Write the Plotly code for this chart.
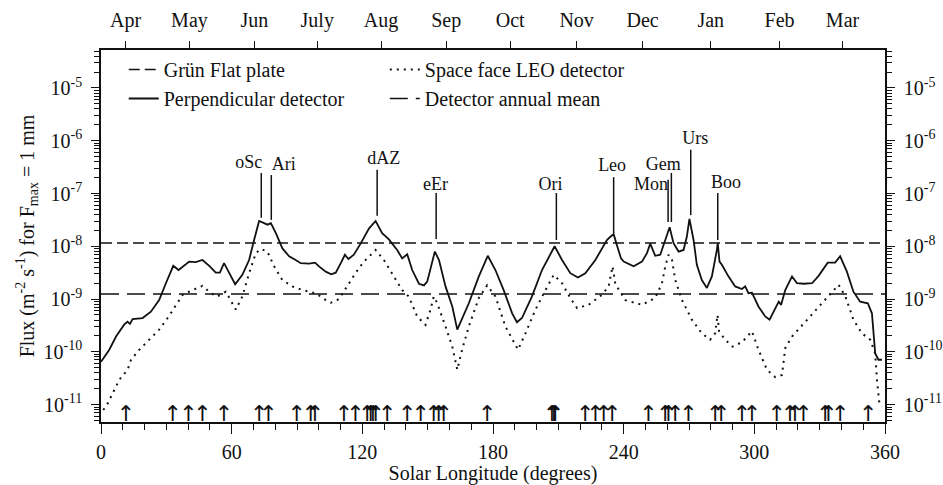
import numpy as np
import plotly.graph_objects as go

# ---------------- data ----------------
# Perpendicular detector (solid line): solar longitude (deg) and log10(flux)
perp_lon = [0, 3.8, 6.9, 10.7, 12.2, 13.3, 14.5, 19.1, 22.9, 26.7, 29.8, 33.2, 35.6, 38.2,
            40.5, 43.5, 46.6, 49.7, 52.7, 54.6, 56.5, 58.8, 61.6, 64.9, 68.0, 70.3, 72.6,
            74.9, 76.4, 78.0, 80.3, 83.3, 86.4, 89.4, 91.7, 95.5, 98.3, 100.1, 103.2, 105.7,
            107.8, 110.1, 112.0, 113.6, 116.1, 119.2, 123.1, 126.1, 129.1, 132.2, 136.0,
            138.3, 140.6, 142.9, 146.0, 148.3, 149.8, 153.3, 155.2, 158.2, 161.3, 163.6,
            165.1, 168.9, 173.5, 177.6, 181.1, 184.9, 188.8, 191.0, 193.3, 197.9, 202.5,
            208.3, 211.7, 215.5, 219.0, 222.4, 227.0, 232.3, 233.9, 235.4, 236.9, 238.8,
            240.0, 244.6, 248.4, 250.7, 252.2, 254.5, 256.8, 259.1, 261.1, 262.9, 265.2,
            267.5, 269.0, 270.2, 272.1, 273.6, 275.9, 278.2, 280.5, 282.8, 283.2, 284.0,
            285.1, 288.1, 291.2, 294.3, 295.8, 297.3, 298.9, 301.9, 305.0, 307.0, 309.6,
            311.2, 312.3, 314.2, 317.3, 319.6, 322.6, 326.5, 329.5, 333.7, 337.1, 339.4,
            342.5, 345.5, 348.6, 352.1, 354.0, 355.5, 357.0, 358.6]
perp_log10 = [-10.19, -9.96, -9.71, -9.48, -9.43, -9.47, -9.38, -9.36, -9.24, -9.02, -8.70,
              -8.37, -8.45, -8.37, -8.29, -8.30, -8.26, -8.37, -8.50, -8.50, -8.32, -8.50,
              -8.72, -8.54, -8.26, -7.88, -7.52, -7.56, -7.59, -7.56, -7.75, -8.04, -8.19,
              -8.26, -8.32, -8.33, -8.31, -8.38, -8.48, -8.53, -8.50, -8.32, -8.16, -8.24,
              -8.16, -7.95, -7.66, -7.52, -7.75, -7.87, -8.07, -8.23, -8.15, -8.45, -8.71,
              -8.74, -8.67, -8.10, -8.26, -8.76, -9.14, -9.58, -9.43, -9.08, -8.57, -8.18,
              -8.45, -8.83, -9.27, -9.44, -9.36, -8.95, -8.45, -8.00, -8.26, -8.51, -8.59,
              -8.51, -8.26, -7.88, -7.82, -7.77, -7.98, -8.23, -8.29, -8.38, -8.29, -8.13,
              -7.95, -8.18, -8.16, -7.88, -7.64, -7.94, -8.10, -8.07, -7.82, -7.48, -7.88,
              -8.35, -8.64, -8.79, -8.57, -8.07, -7.94, -8.29, -8.35, -8.57, -8.76, -8.81,
              -8.76, -8.89, -8.88, -9.14, -9.33, -9.39, -9.17, -9.05, -9.11, -8.83, -8.57,
              -8.70, -8.71, -8.70, -8.56, -8.31, -8.31, -8.19, -8.48, -8.86, -9.05, -9.08,
              -9.27, -10.03, -10.15, -10.15]

# Space face LEO detector (dotted line)
leo_lon = [1.0, 2.3, 4.6, 8.4, 12.2, 13.8, 17.6, 22.2, 26.7, 30.6, 34.4, 37.5, 42.0, 46.6,
           50.4, 53.5, 57.3, 61.9, 64.9, 68.0, 71.1, 73.4, 76.4, 79.5, 83.3, 87.9, 92.5,
           98.6, 103.2, 105.5, 109.3, 113.9, 117.0, 120.5, 126.1, 129.9, 133.7, 138.3,
           141.3, 145.2, 149.0, 151.3, 152.8, 154.4, 158.2, 161.3, 163.6, 165.8, 168.9,
           173.5, 177.3, 181.1, 185.7, 188.8, 191.5, 194.9, 199.5, 204.1, 207.9, 211.7,
           215.5, 218.6, 223.9, 230.0, 233.1, 234.9, 236.2, 240.8, 248.4, 254.5, 257.6,
           259.1, 260.6, 262.2, 263.7, 266.8, 271.3, 275.9, 279.7, 282.0, 283.1, 283.8,
           286.6, 290.0, 294.3, 298.9, 301.9, 305.8, 309.6, 312.7, 314.2, 317.3, 323.4,
           329.5, 334.9, 338.7, 341.8, 345.5, 349.4, 353.2, 355.5, 356.3, 357.4, 358.6]
leo_log10 = [-11.10, -11.04, -10.85, -10.53, -10.34, -10.15, -9.96, -9.77, -9.58, -9.36,
             -9.11, -8.92, -8.83, -8.75, -8.89, -8.95, -8.86, -9.20, -8.95, -8.51, -8.13,
             -8.05, -8.10, -8.38, -8.64, -8.76, -8.83, -8.89, -9.02, -9.07, -9.00, -8.70,
             -8.50, -8.30, -8.07, -8.26, -8.51, -8.83, -8.95, -9.33, -9.49, -9.20, -8.95,
             -9.08, -9.52, -9.90, -10.34, -9.96, -9.52, -8.98, -8.74, -8.95, -9.52, -9.77,
             -9.96, -9.65, -9.20, -8.83, -8.54, -8.70, -8.98, -9.17, -9.11, -8.92, -8.76,
             -8.38, -8.72, -9.02, -9.11, -8.98, -8.70, -8.38, -8.16, -8.26, -8.64, -9.02,
             -9.39, -9.65, -9.77, -9.65, -9.30, -9.61, -9.77, -9.90, -9.82, -9.61, -9.96,
             -10.34, -10.48, -10.44, -9.93, -9.71, -9.43, -9.14, -8.89, -8.73, -8.95, -9.39,
             -9.65, -9.77, -10.03, -10.53, -10.97, -11.04]

grun_flux = 1.15e-8          # Grün flat plate
annual_mean_flux = 1.25e-9   # detector annual mean

# Named showers
shower_names = ["oSc", "Ari", "dAZ", "eEr", "Ori", "Leo", "Mon", "Gem", "Urs", "Boo"]
shower_lon = [73.6, 78.2, 126.8, 153.9, 209.1, 235.4, 260.4, 261.9, 270.8, 283.2]

# Minor shower arrows (solar longitudes)
arrow_lon = [11.5, 32.9, 40.2, 46.6, 56.5, 72.6, 76.9, 89.9, 96.3, 98.3, 111.6, 116.8,
             122.3, 123.8, 124.9, 126.1, 131.4, 140.6, 146.8, 152.8, 155.1, 157.4, 177.3,
             207.1, 208.0, 208.6, 222.4, 227.0, 230.8, 234.7, 251.4, 259.1, 260.6, 263.7,
             269.8, 282.0, 284.8, 294.3, 298.9, 310.3, 316.4, 318.7, 322.6, 332.5, 334.0,
             339.4, 352.3]

# Top axis: months (first of month in solar longitude)
month_lon = [11.3, 40.6, 70.4, 99.3, 128.6, 158.5, 187.9, 218.4, 248.7, 280.0, 311.6, 340.5]
month_names = ["Apr", "May", "Jun", "July", "Aug", "Sep", "Oct", "Nov", "Dec", "Jan", "Feb", "Mar"]

x_ticks = [0, 60, 120, 180, 240, 300, 360]
y_decades = [-11, -10, -9, -8, -7, -6, -5]

# ---------------- layout helpers (positions of annotations) ----------------
line_top_log = [-6.61, -6.65, -6.55, -6.99, -6.99, -6.69, -6.74, -6.61, -6.17, -6.99]
line_bot_log = [-7.46, -7.50, -7.42, -7.86, -7.88, -7.75, -7.54, -7.54, -7.41, -7.88]
label_dx = [-5.7, 5.7, 3.0, -0.3, -2.7, -0.7, -7.9, -3.7, 2.1, 3.8]
label_log = [-6.44, -6.46, -6.35, -6.84, -6.84, -6.49, -6.84, -6.46, -5.97, -6.81]
arrow_log = -11.2

FONT = "Liberation Serif"
BLK = "#111111"

fig = go.Figure()

fig.add_trace(go.Scatter(x=[0, 360], y=[grun_flux, grun_flux], mode="lines",
                         line=dict(color=BLK, width=1.5, dash="11px,5px"),
                         name="Grün Flat plate", legend="legend"))
fig.add_trace(go.Scatter(x=leo_lon, y=np.power(10.0, leo_log10), mode="lines",
                         line=dict(color=BLK, width=2, dash="2px,5px"),
                         name="Space face LEO detector", legend="legend2"))
fig.add_trace(go.Scatter(x=perp_lon, y=np.power(10.0, perp_log10), mode="lines",
                         line=dict(color=BLK, width=1.8),
                         name="Perpendicular detector", legend="legend"))
fig.add_trace(go.Scatter(x=[0, 360], y=[annual_mean_flux, annual_mean_flux], mode="lines",
                         line=dict(color=BLK, width=1.5, dash="18px,8px"),
                         name="Detector annual mean", legend="legend2"))

# shower marker lines
lx, ly = [], []
for lon, t, b in zip(shower_lon, line_top_log, line_bot_log):
    lx += [lon, lon, None]
    ly += [10 ** t, 10 ** b, None]
fig.add_trace(go.Scatter(x=lx, y=ly, mode="lines", line=dict(color=BLK, width=1.5),
                         showlegend=False, hoverinfo="skip"))
fig.add_trace(go.Scatter(x=[l + d for l, d in zip(shower_lon, label_dx)],
                         y=[10 ** v for v in label_log], mode="text", text=shower_names,
                         textfont=dict(family=FONT, size=18, color=BLK),
                         showlegend=False, hoverinfo="skip"))
# minor shower arrows
fig.add_trace(go.Scatter(x=arrow_lon, y=[10 ** arrow_log] * len(arrow_lon), mode="text",
                         text=["↑"] * len(arrow_lon),
                         textfont=dict(family="DejaVu Sans", size=22, color=BLK),
                         showlegend=False, hoverinfo="skip"))
# dummy trace for secondary axes
fig.add_trace(go.Scatter(x=[None], y=[None], xaxis="x2", yaxis="y2", showlegend=False))

minor_vals = [k * 10.0 ** n for n in range(-12, -4) for k in range(2, 10)]
yr = [-11.33, -4.28]
ytext = ["10<sup>%d</sup>" % d for d in y_decades]
yvals = [10.0 ** d for d in y_decades]

axis_common = dict(showline=True, linecolor=BLK, linewidth=1.5, ticks="outside",
                   tickcolor=BLK, showgrid=False, zeroline=False, automargin=False,
                   tickfont=dict(family=FONT, size=20, color=BLK))

legend_common = dict(orientation="v", yanchor="top", xanchor="left",
                     bgcolor="rgba(0,0,0,0)", tracegroupgap=0,
                     font=dict(family=FONT, size=20, color=BLK))

fig.update_layout(
    width=943, height=485,
    margin=dict(l=101, r=58, t=50, b=63),
    paper_bgcolor="white", plot_bgcolor="white",
    font=dict(family=FONT, size=20, color=BLK),
    xaxis=dict(range=[0, 360], tickvals=x_ticks, ticklen=10, tickwidth=1.3,
               ticklabelstandoff=1,
               minor=dict(dtick=10, tick0=0, ticks="outside", ticklen=6, tickcolor=BLK,
                          tickwidth=1.2, showgrid=False),
               title=dict(text="Solar Longitude (degrees)", standoff=12,
                          font=dict(family=FONT, size=20, color=BLK)),
               **axis_common),
    xaxis2=dict(range=[0, 360], overlaying="x", side="top", anchor="y2",
                tickvals=month_lon, ticktext=month_names, ticklen=7, tickwidth=1.3,
                ticklabelstandoff=6,
                **axis_common),
    yaxis=dict(type="log", range=yr, tickvals=yvals, ticktext=ytext, ticklen=8,
               tickwidth=1.3, ticklabelstandoff=5,
               minor=dict(tickvals=minor_vals, ticks="outside", ticklen=5, tickcolor=BLK,
                          tickwidth=1, showgrid=False),
               title=dict(text="Flux (m<sup>-2</sup> s<sup>-1</sup>) for F<sub>max</sub> = 1 mm",
                          standoff=4, font=dict(family=FONT, size=20, color=BLK)),
               **axis_common),
    yaxis2=dict(type="log", range=yr, overlaying="y", side="right", anchor="x2",
                tickvals=yvals, ticktext=ytext, ticklen=8, tickwidth=1.3,
                ticklabelstandoff=5,
                minor=dict(tickvals=minor_vals, ticks="outside", ticklen=5, tickcolor=BLK,
                           tickwidth=1, showgrid=False),
                **axis_common),
    legend=dict(x=0.029, y=1.0, **legend_common),
    legend2=dict(x=0.362, y=1.0, **legend_common),
    showlegend=True,
)

fig.write_html("out.html")
